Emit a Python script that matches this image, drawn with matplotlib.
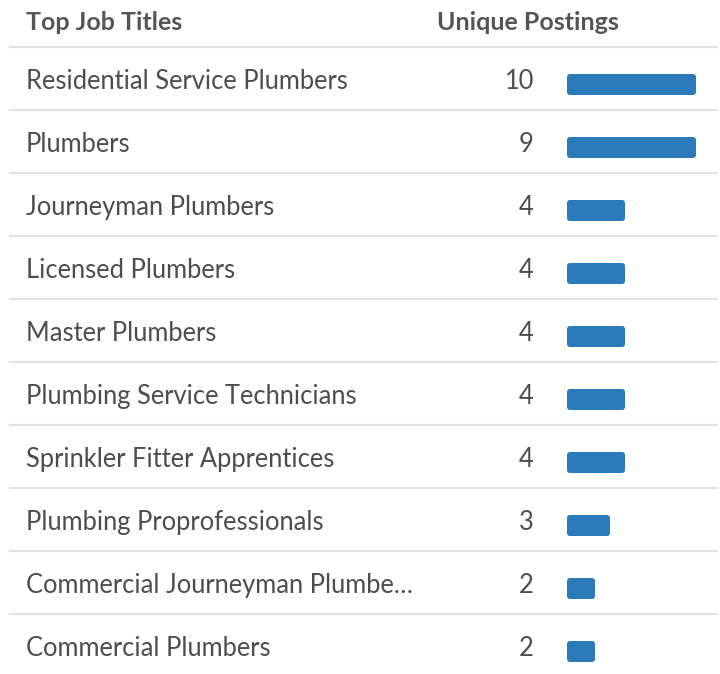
import numpy as np
import matplotlib
matplotlib.use("Agg")
import matplotlib.pyplot as plt
from matplotlib.patches import FancyBboxPatch

# Table data
header_title = "Top Job Titles"
header_value = "Unique Postings"
titles = [
    "Residential Service Plumbers",
    "Plumbers",
    "Journeyman Plumbers",
    "Licensed Plumbers",
    "Master Plumbers",
    "Plumbing Service Technicians",
    "Sprinkler Fitter Apprentices",
    "Plumbing Proprofessionals",
    "Commercial Journeyman Plumbe\u2026",
    "Commercial Plumbers",
]
postings = [10, 9, 4, 4, 4, 4, 4, 3, 2, 2]

plt.rcParams['font.family'] = ['Lato', 'DejaVu Sans']

W, H = 720, 674
fig = plt.figure(figsize=(W / 100, H / 100), dpi=100)

# main axes in pixel units for text and rules
ax = fig.add_axes([0, 0, 1, 1])
ax.set_xlim(0, W)
ax.set_ylim(H, 0)
ax.axis("off")

row_top = 47
row_h = 63
grid_col = "#e2e2e2"
text_col = "#4d4d4d"
head_col = "#555555"

ax.text(26, 22, header_title, fontsize=18, fontweight="bold", color=head_col,
        va="center", ha="left")
ax.text(437, 22, header_value, fontsize=18, fontweight="bold", color=head_col,
        va="center", ha="left")
ax.plot([10, 717], [row_top, row_top], color=grid_col, lw=1.5)

for i, (t, v) in enumerate(zip(titles, postings)):
    yc = row_top + row_h * i + row_h / 2
    ax.text(26, yc + 3, t, fontsize=18.4, color=text_col, va="center", ha="left")
    ax.text(534, yc + 3, str(v), fontsize=18.4, color=text_col, va="center", ha="right")
    if i < len(titles) - 1:
        yl = row_top + row_h * (i + 1)
        ax.plot([10, 717], [yl, yl], color=grid_col, lw=1.5)

# bar axes: x in posting units, y in pixels
bx0, bx1 = 567, 698
px_per_unit = 15
bax = fig.add_axes([bx0 / W, 0, (bx1 - bx0) / W, 1])
xmax = (bx1 - bx0) / px_per_unit
bax.set_xlim(0, xmax)
bax.set_ylim(H, 0)
bax.axis("off")

bar_h = 21
for i, v in enumerate(postings):
    yc = row_top + row_h * i + row_h / 2 + 6
    w = min(v, xmax) - 2 / px_per_unit
    p = FancyBboxPatch((0, yc - bar_h / 2), w, bar_h,
                       boxstyle="round,pad=0,rounding_size=0.2",
                       mutation_aspect=px_per_unit,
                       facecolor="#2b7bba", edgecolor="none")
    bax.add_patch(p)

fig.savefig("out.png", dpi=100)
